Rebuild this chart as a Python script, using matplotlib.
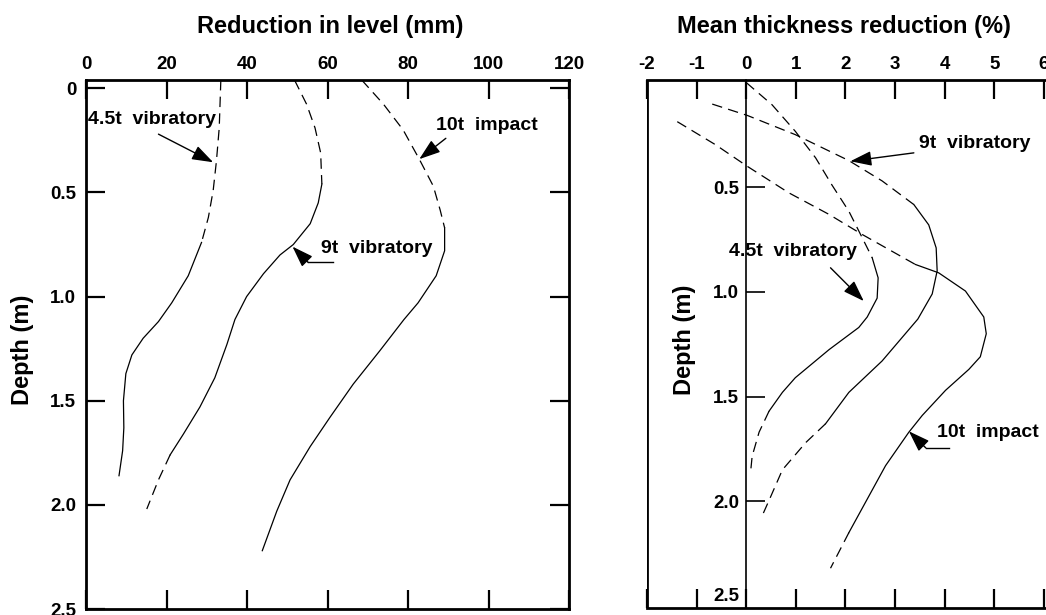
import matplotlib

matplotlib.use("Agg")
import matplotlib.pyplot as plt
from matplotlib.transforms import ScaledTranslation

plt.rcParams["font.family"] = ["Liberation Sans", "DejaVu Sans"]
plt.rcParams["font.weight"] = "bold"
plt.rcParams["lines.scale_dashes"] = False

# ---- data (depth in m) ----
# left panel: reduction in level (mm)
lvl_45t_depth = [-0.04, 0.19, 0.35, 0.49, 0.62, 0.74, 0.90, 1.03, 1.12, 1.20, 1.28, 1.37, 1.50, 1.63, 1.74, 1.86]
lvl_45t_mm = [33.5, 33.1, 32.4, 31.6, 30.4, 28.7, 25.4, 21.3, 18.0, 14.2, 11.4, 9.9, 9.3, 9.4, 9.1, 8.2]
lvl_45t_solid = (5, 15)

lvl_9t_depth = [-0.04, 0.076, 0.19, 0.31, 0.46, 0.55, 0.65, 0.75, 0.80, 0.89, 1.00, 1.11, 1.23, 1.39, 1.53,
                1.66, 1.76, 1.88, 2.02]
lvl_9t_mm = [51.8, 54.8, 56.9, 58.3, 58.6, 57.7, 55.7, 51.5, 48.2, 44.1, 39.9, 37.0, 35.0, 32.0, 28.3,
             24.2, 20.9, 18.0, 15.1]
lvl_9t_solid = (4, 16)

lvl_10t_depth = [-0.04, 0.076, 0.20, 0.34, 0.47, 0.585, 0.67, 0.78, 0.90, 1.03, 1.11, 1.26, 1.42, 1.58, 1.72,
                 1.88, 2.03, 2.22]
lvl_10t_mm = [68.5, 73.9, 78.8, 82.8, 86.3, 88.0, 89.1, 89.1, 87.0, 82.5, 79.0, 73.0, 66.4, 60.6, 55.7,
              50.7, 47.4, 43.8]
lvl_10t_solid = (6, 17)

# right panel: mean thickness reduction (%)
thk_45t_depth = [0.0, 0.106, 0.233, 0.36, 0.49, 0.615, 0.742, 0.837, 0.933, 1.03, 1.12, 1.17, 1.276, 1.41,
                 1.48, 1.57, 1.67, 1.785, 1.857]
thk_45t_pct = [0.0, 0.52, 0.99, 1.40, 1.73, 2.07, 2.34, 2.54, 2.66, 2.64, 2.44, 2.27, 1.67, 0.99,
               0.73, 0.46, 0.26, 0.12, 0.09]
thk_45t_solid = (7, 15)

thk_9t_depth = [0.103, 0.157, 0.249, 0.373, 0.47, 0.583, 0.68, 0.79, 0.90, 1.01, 1.13, 1.33, 1.48, 1.63,
                1.72, 1.85, 1.98, 2.06]
thk_9t_pct = [-0.685, 0.02, 0.99, 2.07, 2.74, 3.38, 3.68, 3.83, 3.85, 3.75, 3.46, 2.74, 2.07, 1.60,
              1.20, 0.73, 0.49, 0.34]
thk_9t_solid = (5, 13)

thk_10t_depth = [0.187, 0.297, 0.40, 0.527, 0.63, 0.726, 0.869, 0.909, 0.996, 1.12, 1.20, 1.31, 1.37, 1.47,
                 1.59, 1.67, 1.83, 1.99, 2.15, 2.32]
thk_10t_pct = [-1.39, -0.62, 0.02, 0.86, 1.67, 2.34, 3.41, 3.88, 4.42, 4.79, 4.84, 4.72, 4.49, 4.02,
               3.55, 3.28, 2.81, 2.44, 2.07, 1.70]
thk_10t_solid = (6, 18)

lvl_xticks = [0, 20, 40, 60, 80, 100, 120]
lvl_yticks = [0, 0.5, 1.0, 1.5, 2.0, 2.5]
thk_xticks = [-2, -1, 0, 1, 2, 3, 4, 5, 6]
thk_yticks = [0.5, 1.0, 1.5, 2.0, 2.5]

DASHED = dict(color="black", lw=0.9, linestyle=(0, (7.5, 4.5)))
SOLID = dict(color="black", lw=0.9, linestyle="-")
TEXT = dict(fontsize=14, fontweight="bold", va="center", ha="left")
W, H = 1046, 615


def draw_curve(ax, x, depth, solid):
    i0, i1 = solid
    ax.plot(x[: i0 + 1], depth[: i0 + 1], **DASHED)
    ax.plot(x[i0 : i1 + 1], depth[i0 : i1 + 1], **SOLID)
    if i1 < len(x) - 1:
        ax.plot(x[i1:], depth[i1:], **DASHED)


def arrow(ax, tail, tip):
    ax.annotate(
        "",
        xy=tip,
        xytext=tail,
        arrowprops=dict(
            arrowstyle="-|>,head_length=1.3,head_width=0.45",
            mutation_scale=10,
            lw=1.0,
            color="black",
            shrinkA=0,
            shrinkB=0,
        ),
    )


def elbow_arrow(ax, tail, elbow, tip):
    ax.plot([tail[0], elbow[0]], [tail[1], elbow[1]], color="black", lw=1.0)
    arrow(ax, elbow, tip)


fig = plt.figure(figsize=(W / 100, H / 100), dpi=100)

# ---- left panel ----
ax_l = fig.add_axes([86 / W, 1 - 609 / H, (569 - 86) / W, (609 - 80) / H])
draw_curve(ax_l, lvl_45t_mm, lvl_45t_depth, lvl_45t_solid)
draw_curve(ax_l, lvl_9t_mm, lvl_9t_depth, lvl_9t_solid)
draw_curve(ax_l, lvl_10t_mm, lvl_10t_depth, lvl_10t_solid)
ax_l.set_xlim(0, 120)
ax_l.set_ylim(2.5, -0.04)
ax_l.set_xticks(lvl_xticks)
ax_l.set_yticks(lvl_yticks)
ax_l.set_xticklabels([str(v) for v in lvl_xticks])
ax_l.set_yticklabels(["0", "0.5", "1.0", "1.5", "2.0", "2.5"])
ax_l.tick_params(axis="x", direction="in", length=14, width=1.6, top=True, bottom=True,
                 labeltop=True, labelbottom=False, labelsize=13.5, pad=5)
ax_l.tick_params(axis="y", direction="in", length=14, width=1.6, left=True, right=True,
                 labelsize=13.5, pad=7)
for sp in ax_l.spines.values():
    sp.set_linewidth(2.0)

ax_l.text(0.5, 0.148, "4.5t  vibratory", **TEXT)
arrow(ax_l, (18.0, 0.22), (31.6, 0.355))
ax_l.text(87.0, 0.18, "10t  impact", **TEXT)
arrow(ax_l, (89.4, 0.24), (82.8, 0.34))
ax_l.text(58.3, 0.77, "9t  vibratory", **TEXT)
elbow_arrow(ax_l, (61.4, 0.836), (55.2, 0.836), (51.3, 0.76))

# ---- right panel ----
ax_r = fig.add_axes([647 / W, 1 - 608 / H, 8.1 * 49.6 / W, (608 - 80) / H])
draw_curve(ax_r, thk_45t_pct, thk_45t_depth, thk_45t_solid)
draw_curve(ax_r, thk_9t_pct, thk_9t_depth, thk_9t_solid)
draw_curve(ax_r, thk_10t_pct, thk_10t_depth, thk_10t_solid)
ax_r.set_xlim(-2, 6.1)
ax_r.set_ylim(2.51, -0.012)
ax_r.set_xticks(thk_xticks)
ax_r.set_yticks(thk_yticks)
ax_r.set_xticklabels([str(v) for v in thk_xticks])
ax_r.set_yticklabels(["0.5", "1.0", "1.5", "2.0", "2.5"])
ax_r.spines["left"].set_position(("data", 0))
ax_r.spines["left"].set_linewidth(1.2)
for name in ("top", "bottom", "right"):
    ax_r.spines[name].set_linewidth(2.0)
ax_r.axvline(-2, color="black", lw=2.0)
ax_r.tick_params(axis="x", direction="in", length=14, width=1.6, top=True, bottom=True,
                 labeltop=True, labelbottom=False, labelsize=13.5, pad=5)
ax_r.tick_params(axis="y", direction="in", length=14, width=1.2, left=True, right=False,
                 labelsize=13.5, pad=5)
# the bottom "2.5" label sits a little above the frame in the original
last = ax_r.yaxis.get_major_ticks()[-1]
last.label1.set_transform(last.label1.get_transform() + ScaledTranslation(0, 0.11, fig.dpi_scale_trans))
last.tick1line.set_visible(False)

ax_r.text(3.49, 0.289, "9t  vibratory", **TEXT)
arrow(ax_r, (3.38, 0.336), (2.10, 0.376))
ax_r.text(-0.35, 0.805, "4.5t  vibratory", **TEXT)
arrow(ax_r, (1.70, 0.885), (2.37, 1.044))
ax_r.text(3.85, 1.674, "10t  impact", **TEXT)
elbow_arrow(ax_r, (4.09, 1.745), (3.62, 1.745), (3.28, 1.666))

# ---- axis titles ----
fig.text(330 / W, 1 - 27 / H, "Reduction in level (mm)", fontsize=17, fontweight="bold",
         ha="center", va="center")
fig.text(844 / W, 1 - 27 / H, "Mean thickness reduction (%)", fontsize=17, fontweight="bold",
         ha="center", va="center")
fig.text(22 / W, 1 - 350 / H, "Depth (m)", fontsize=17, fontweight="bold", rotation=90,
         ha="center", va="center")
fig.text(685 / W, 1 - 340 / H, "Depth (m)", fontsize=17, fontweight="bold", rotation=90,
         ha="center", va="center")

fig.savefig("out.png", dpi=100)
plt.close(fig)
